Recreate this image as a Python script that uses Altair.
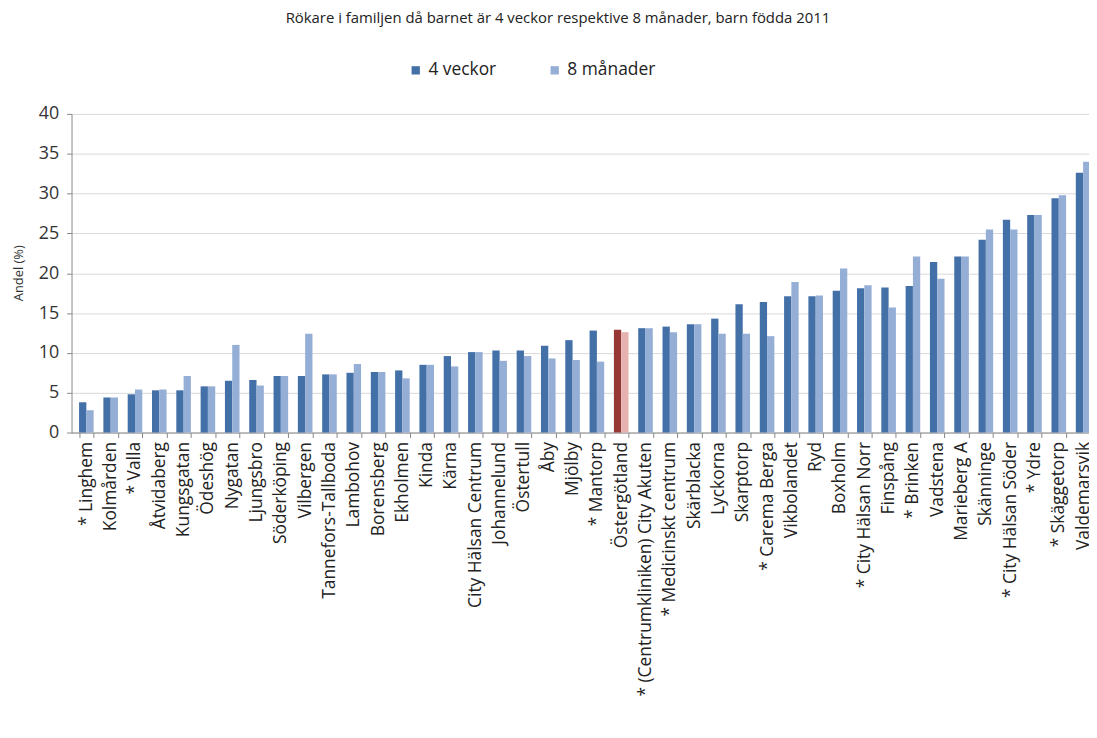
import altair as alt
import pandas as pd

names = ["* Linghem", "Kolmården", "* Valla", "Åtvidaberg", "Kungsgatan", "Ödeshög",
         "Nygatan", "Ljungsbro", "Söderköping", "Vilbergen", "Tannefors-Tallboda",
         "Lambohov", "Borensberg", "Ekholmen", "Kinda", "Kärna", "City Hälsan Centrum",
         "Johannelund", "Östertull", "Åby", "Mjölby", "* Mantorp", "Östergötland",
         "* (Centrumkliniken) City Akuten", "* Medicinskt centrum", "Skärblacka",
         "Lyckorna", "Skarptorp", "* Carema Berga", "Vikbolandet", "Ryd", "Boxholm",
         "* City Hälsan Norr", "Finspång", "* Brinken", "Vadstena", "Marieberg A",
         "Skänninge", "* City Hälsan Söder", "* Ydre", "* Skäggetorp", "Valdemarsvik"]

v4 = [3.8, 4.4, 4.8, 5.3, 5.3, 5.8, 6.5, 6.6, 7.1, 7.1, 7.3, 7.5, 7.6, 7.8, 8.5, 9.6,
      10.1, 10.3, 10.3, 10.9, 11.6, 12.8, 12.9, 13.1, 13.3, 13.6, 14.3, 16.1, 16.4,
      17.1, 17.1, 17.8, 18.1, 18.2, 18.4, 21.4, 22.1, 24.2, 26.7, 27.3, 29.4, 32.6]

v8 = [2.8, 4.4, 5.4, 5.4, 7.1, 5.8, 11.0, 5.9, 7.1, 12.4, 7.3, 8.6, 7.6, 6.8, 8.5, 8.3,
      10.1, 9.0, 9.6, 9.3, 9.1, 8.9, 12.6, 13.1, 12.6, 13.6, 12.4, 12.4, 12.1,
      18.9, 17.2, 20.6, 18.5, 15.7, 22.1, 19.3, 22.1, 25.5, 25.5, 27.3, 29.8, 34.0]

series = ["4 veckor", "8 månader"]
highlight = "Östergötland"

rows = []
for n, a, b in zip(names, v4, v8):
    for s, v in zip(series, [a, b]):
        key = s if n != highlight else s + " (län)"
        rows.append({"enhet": n, "serie": s, "andel": v, "farg": key})
df = pd.DataFrame(rows)

color_domain = ["4 veckor", "8 månader", "4 veckor (län)", "8 månader (län)"]
color_range = ["#4470A8", "#95AED6", "#953735", "#E6B2B0"]

font = "Open Sans"

chart = alt.Chart(df).mark_bar().encode(
    x=alt.X("enhet:N", sort=names, title=None,
            scale=alt.Scale(paddingInner=0.4, paddingOuter=0.31, range=[0, 1034]),
            axis=alt.Axis(labelAngle=270, labelFont=font, labelFontSize=17.5,
                          labelColor="#222222", tickBand="extent", tickSize=5,
                          tickColor="#888888", domainColor="#888888",
                          labelPadding=4, labelLimit=400)),
    xOffset=alt.XOffset("serie:N", sort=series),
    y=alt.Y("andel:Q", title="Andel (%)",
            scale=alt.Scale(domain=[0, 40]),
            axis=alt.Axis(values=list(range(0, 41, 5)), labelFont=font,
                          labelFontSize=18, labelColor="#333333",
                          tickColor="#888888", domainColor="#888888", tickSize=5,
                          gridColor="#D9D9D9", labelPadding=8,
                          titleFont=font, titleFontSize=13, titleFontWeight="normal",
                          titleColor="#333333", titleX=-46, titleY=160)),
    color=alt.Color("farg:N",
                    scale=alt.Scale(domain=color_domain, range=color_range),
                    legend=alt.Legend(values=series, title=None, orient="none",
                                      direction="horizontal", legendX=338,
                                      legendY=-53, symbolType="square",
                                      symbolSize=70, symbolStrokeWidth=0,
                                      labelFont=font, labelFontSize=17.5,
                                      labelColor="#222222", columnPadding=50)),
).properties(
    width=1024,
    height=321,
    title=alt.TitleParams("Rökare i familjen då barnet är 4 veckor respektive 8 månader, barn födda 2011",
                          font=font, fontSize=15, fontWeight="normal", color="#222222",
                          anchor="middle", frame="group", dx=-22, offset=36),
    padding={"left": 64, "top": 104, "right": 1, "bottom": 300},
    autosize=alt.AutoSizeParams(type="none"),
).configure_view(stroke=None)

chart.save("out.html", embed_options={"renderer": "svg", "actions": False})
